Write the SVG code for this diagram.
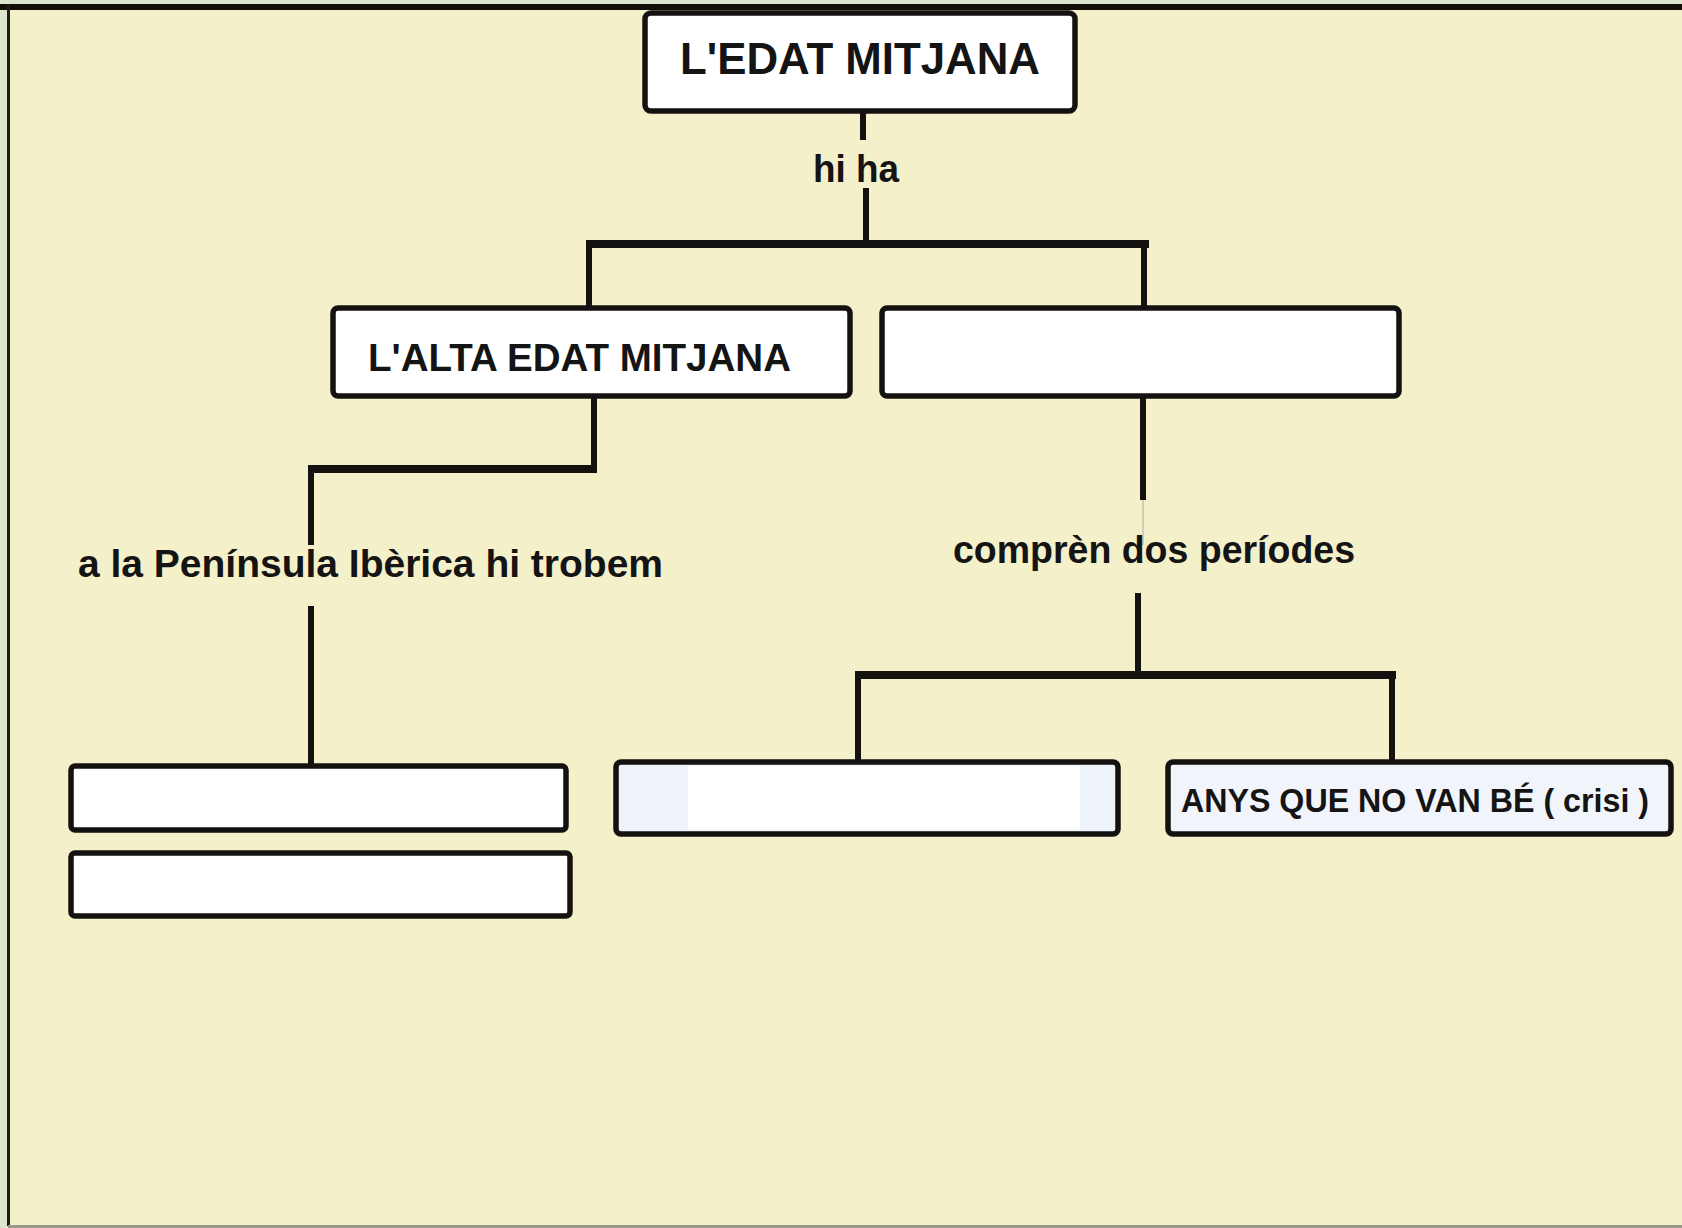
<svg xmlns="http://www.w3.org/2000/svg" width="1682" height="1228" viewBox="0 0 1682 1228">
<style>
.box{fill:#ffffff;stroke:#141210;stroke-width:5.5}
.t{font-family:"Liberation Sans",Arial,sans-serif;font-weight:bold;fill:#141414}
.h{stroke:#141210;stroke-width:8;fill:none;stroke-linecap:butt}
.v{stroke:#141210;stroke-width:6;fill:none;stroke-linecap:butt}
</style>
<rect x="0" y="0" width="1682" height="1228" fill="#DCE4CF"/>
<rect x="8" y="7" width="1674" height="1219" fill="#F4F0C9"/>
<rect x="0" y="4" width="1682" height="6" fill="#140D08"/>
<rect x="7" y="4" width="3" height="1222" fill="#1c1a14"/>
<rect x="8" y="1225" width="1674" height="3" fill="#9a9888"/>

<g id="connectors">
  <line class="v" x1="863" y1="112" x2="863" y2="140"/>
  <line class="v" x1="866" y1="188" x2="866" y2="244"/>
  <line class="h" x1="586" y1="244" x2="1149" y2="244"/>
  <line class="v" x1="589" y1="244" x2="589" y2="308"/>
  <line class="v" x1="1144" y1="244" x2="1144" y2="308"/>

  <line class="v" x1="594" y1="396" x2="594" y2="472"/>
  <line class="h" x1="308" y1="469" x2="597" y2="469"/>
  <line class="v" x1="311" y1="469" x2="311" y2="545"/>
  <line class="v" x1="311" y1="606" x2="311" y2="766"/>

  <line class="v" x1="1143" y1="396" x2="1143" y2="500"/>
  <line x1="1143" y1="500" x2="1143" y2="545" stroke="#c9c3a8" stroke-width="1.5"/>
  <line class="v" x1="1138" y1="593" x2="1138" y2="675"/>
  <line class="h" x1="855" y1="675" x2="1396" y2="675"/>
  <line class="v" x1="858" y1="675" x2="858" y2="762"/>
  <line class="v" x1="1392" y1="675" x2="1392" y2="762"/>
</g>

<g id="label-hi-ha"><text class="t" x="856" y="182" font-size="38" text-anchor="middle" textLength="86" lengthAdjust="spacingAndGlyphs">hi ha</text></g>
<g id="label-peninsula"><text class="t" x="78" y="577" font-size="38" textLength="585" lengthAdjust="spacingAndGlyphs">a la Península Ibèrica hi trobem</text></g>
<g id="label-compren"><text class="t" x="953" y="563" font-size="38" textLength="402" lengthAdjust="spacingAndGlyphs">comprèn dos períodes</text></g>

<g id="node-edat-mitjana">
  <rect class="box" x="645" y="13" width="430" height="98" rx="6"/>
  <text class="t" x="680" y="74" font-size="45" textLength="360" lengthAdjust="spacingAndGlyphs">L'EDAT MITJANA</text>
</g>
<g id="node-alta">
  <rect class="box" x="333" y="308" width="517" height="88" rx="5"/>
  <text class="t" x="368" y="371" font-size="39" textLength="423" lengthAdjust="spacingAndGlyphs">L'ALTA EDAT MITJANA</text>
</g>
<g id="node-blank-right">
  <rect class="box" x="882" y="308" width="517" height="88" rx="5"/>
</g>
<g id="node-left-1">
  <rect class="box" x="71" y="766" width="495" height="64" rx="4"/>
</g>
<g id="node-left-2">
  <rect class="box" x="71" y="853" width="499" height="63" rx="4"/>
</g>
<g id="node-mid">
  <rect class="box" x="616" y="762" width="502" height="72" rx="5" style="fill:#EEF3F9"/>
  <rect x="688" y="766" width="392" height="64" fill="#ffffff"/>
</g>
<g id="node-crisi">
  <rect class="box" x="1168" y="762" width="503" height="72" rx="5" style="fill:#F1F4FA"/>
  <text class="t" x="1181" y="812" font-size="33" textLength="468" lengthAdjust="spacingAndGlyphs">ANYS QUE NO VAN BÉ ( crisi )</text>
</g>
</svg>
